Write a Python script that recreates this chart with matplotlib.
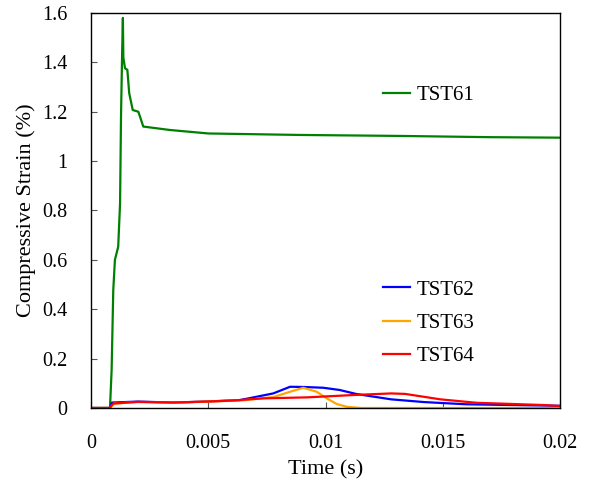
import numpy as np
import matplotlib.pyplot as plt
from matplotlib.ticker import FuncFormatter

plt.rcParams['font.family'] = ['Liberation Serif', 'DejaVu Serif']

# values (time in s, strain in %)
t61 = [0, 0.0008, 0.00081, 0.00088, 0.00095, 0.00102, 0.00116, 0.00124, 0.00128,
       0.00133, 0.00136, 0.00138, 0.00145, 0.00155, 0.00163, 0.00178, 0.00202,
       0.00223, 0.00337, 0.005, 0.0089, 0.0132, 0.017, 0.02]
s61 = [0, 0, 0.0, 0.154, 0.478, 0.6, 0.653, 0.83, 1.18,
       1.45, 1.58, 1.42, 1.376, 1.37, 1.275, 1.207, 1.2,
       1.14, 1.126, 1.112, 1.106, 1.102, 1.097, 1.095]

t62 = [0, 0.0008, 0.0009, 0.002, 0.0035, 0.0049, 0.00635, 0.00777, 0.00849,
       0.0091, 0.0099, 0.0106, 0.0113, 0.0128, 0.0142, 0.016, 0.0199, 0.02]
s62 = [0, 0, 0.022, 0.026, 0.022, 0.026, 0.032, 0.059, 0.086,
       0.085, 0.082, 0.073, 0.057, 0.035, 0.024, 0.015, 0.009, 0.009]

t63 = [0, 0.0008, 0.001, 0.002, 0.0035, 0.005, 0.0065, 0.0078, 0.0085,
       0.00905, 0.00962, 0.01005, 0.01048, 0.0109, 0.0115, 0.02]
s63 = [0, 0, 0.018, 0.024, 0.021, 0.026, 0.031, 0.045, 0.066,
       0.082, 0.066, 0.039, 0.016, 0.005, 0.0, 0.0]

t64 = [0, 0.0008, 0.00094, 0.002, 0.0035, 0.0049, 0.006, 0.00735, 0.0092,
       0.0113, 0.0128, 0.0134, 0.0149, 0.01645, 0.0193, 0.02]
s64 = [0, 0, 0.018, 0.025, 0.022, 0.026, 0.03, 0.039, 0.043,
       0.053, 0.059, 0.057, 0.035, 0.021, 0.012, 0.008]

xticks = [0, 0.005, 0.01, 0.015, 0.02]
xlabels = ['0', '0.005', '0.01', '0.015', '0.02']

fig = plt.figure(figsize=(5.92, 4.83), dpi=100)
ax = fig.add_axes([0.1537, 0.1553, 0.7923, 0.8178])

l61, = ax.plot(t61, s61, color='#008000', lw=1.6, label='TST61')
l62, = ax.plot(t62, s62, color='#0000FF', lw=1.6, label='TST62')
l63, = ax.plot(t63, s63, color='#FFA500', lw=1.6, label='TST63')
l64, = ax.plot(t64, s64, color='#FF0000', lw=1.6, label='TST64')

ax.set_xlim(0, 0.02)
ax.set_ylim(0, 1.6)
ax.set_xticks(xticks)
ax.set_xticklabels(xlabels)
ax.set_yticks(np.arange(0, 1.61, 0.2))
ax.yaxis.set_major_formatter(FuncFormatter(lambda v, p: '%g' % round(v, 1)))
ax.tick_params(direction='in', length=4, labelsize=14.5, color='#555555')
ax.tick_params(axis='x', pad=19)
ax.tick_params(axis='y', pad=17)
for s in ax.spines.values():
    s.set_linewidth(1.0)

ax.set_xlabel('Time (s)', fontsize=16, labelpad=5)
ax.set_ylabel('Compressive Strain (%)', fontsize=16, labelpad=4)

leg1 = ax.legend([l61], ['TST61'], loc='center left', bbox_to_anchor=(0.622, 0.792),
                 frameon=False, fontsize=15, handlelength=1.3, handletextpad=0.35,
                 borderpad=0, borderaxespad=0)
ax.add_artist(leg1)
ax.legend([l62, l63, l64], ['TST62', 'TST63', 'TST64'], loc='center left',
          bbox_to_anchor=(0.622, 0.215), frameon=False, fontsize=15,
          handlelength=1.3, handletextpad=0.35, labelspacing=0.65,
          borderpad=0, borderaxespad=0)

fig.savefig('out.png', dpi=100)
